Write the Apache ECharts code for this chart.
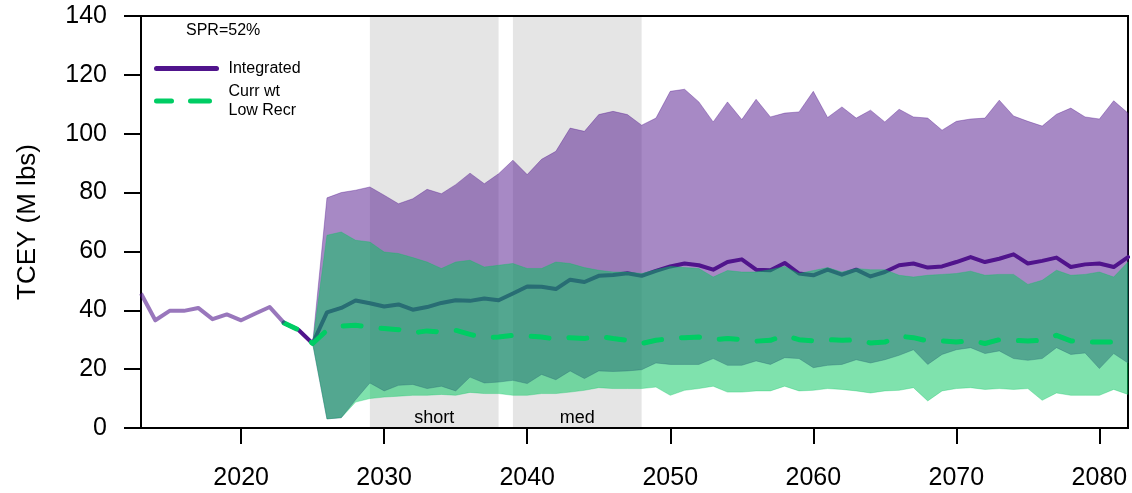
<!DOCTYPE html>
<html>
<head>
<meta charset="utf-8">
<script src="https://cdn.jsdelivr.net/npm/echarts@6/dist/echarts.min.js"></script>
<style>
  html, body { margin: 0; padding: 0; background: #fff; }
  #main { width: 1132px; height: 493px; }
</style>
</head>
<body>
<div id="main"></div>
<script>
// years on the x axis
var firstYear = 2013, lastYear = 2082;
var years = [];
for (var y = firstYear; y <= lastYear; y++) years.push(String(y));

// observed TCEY 2013-2023
var histStart = 2013;
var histCatch = [45.7, 36.6, 39.8, 39.8, 40.8, 37.0, 38.6, 36.6, 38.9, 41.1, 35.7];

// projected medians 2023-2082
var medStart = 2023;
var integratedMed = [35.7, 33.4, 28.7, 39.3, 40.8, 43.3, 42.4, 41.3, 42.0, 40.2,
  41.1, 42.5, 43.4, 43.2, 44.0, 43.4, 45.7, 48.1, 48.0, 47.2,
  50.4, 49.6, 51.7, 52.0, 52.6, 51.7, 53.4, 54.9, 55.9, 55.3,
  53.8, 56.4, 57.3, 53.8, 53.6, 56.1, 52.5, 51.9, 53.8, 52.1,
  53.8, 51.5, 53.0, 55.3, 55.9, 54.5, 54.9, 56.4, 58.1, 56.4,
  57.5, 59.0, 55.9, 56.8, 57.9, 54.7, 55.6, 55.9, 54.7, 58.1];
var currWtMed = [35.7, 33.4, 28.7, 33.2, 34.6, 34.9, 34.3, 33.8, 33.4, 32.3,
  33.0, 32.6, 33.2, 31.8, 30.7, 30.9, 31.5, 31.3, 30.9, 30.2,
  30.7, 30.4, 31.2, 30.4, 29.8, 28.7, 29.8, 30.4, 30.7, 30.9,
  30.0, 30.4, 30.0, 29.5, 29.8, 31.5, 30.0, 29.6, 30.0, 29.8,
  30.0, 28.9, 29.2, 31.2, 30.7, 29.6, 29.6, 29.2, 29.8, 28.7,
  30.0, 29.8, 29.6, 29.8, 31.5, 29.6, 29.2, 29.2, 29.2, 30.7];

// projection intervals 2025-2082
var bandStart = 2025;
var integratedHi = [28.7, 78.2, 80.0, 80.8, 81.9, 79.1, 76.2, 77.9,
  81.1, 79.6, 82.7, 86.6, 83.0, 86.4, 91.0, 86.1, 91.3, 94.0,
  101.9, 100.8, 106.5, 107.6, 106.5, 102.9, 105.3, 114.4, 115.1, 110.8,
  104.0, 110.8, 104.8, 111.7, 105.7, 107.0, 107.4, 114.4, 105.5, 109.1,
  105.3, 108.0, 104.0, 108.3, 105.7, 105.3, 101.2, 104.2, 105.0, 105.3,
  111.4, 106.0, 104.2, 102.6, 106.6, 108.7, 105.7, 105.0, 111.2, 107.0];
var integratedLo = [28.7, 3.1, 3.5, 9.6, 15.3, 12.6, 14.5, 14.8,
  13.4, 14.2, 12.6, 17.3, 15.3, 15.6, 16.2, 15.1, 18.2, 16.4,
  19.4, 16.8, 19.4, 19.2, 19.4, 19.8, 22.1, 21.6, 21.6, 21.6,
  23.6, 21.3, 21.3, 22.8, 21.6, 23.9, 23.6, 20.5, 21.3, 21.6,
  23.2, 22.1, 23.2, 24.7, 26.6, 21.6, 25.0, 26.6, 27.3, 25.3,
  26.2, 23.6, 23.0, 23.6, 27.3, 25.0, 25.5, 20.2, 25.3, 22.1];
var currWtHi = [28.7, 65.5, 66.6, 63.8, 63.2, 59.8, 59.3, 57.9,
  56.4, 54.2, 56.4, 57.0, 54.7, 55.3, 55.9, 54.2, 54.2, 56.4,
  55.9, 54.5, 53.6, 53.0, 53.0, 52.5, 53.8, 54.9, 54.5, 54.2,
  51.3, 53.5, 53.0, 53.0, 53.8, 54.9, 52.5, 53.5, 54.5, 53.0,
  54.2, 53.8, 53.8, 51.9, 51.3, 51.9, 52.2, 52.5, 53.3, 51.9,
  52.2, 52.2, 48.8, 50.2, 53.6, 51.9, 52.2, 53.0, 51.3, 56.4];
var currWtLo = [28.7, 3.1, 3.5, 8.8, 10.0, 10.5, 10.8, 11.1,
  11.1, 11.4, 11.1, 12.1, 11.7, 11.7, 11.1, 11.1, 11.7, 11.7,
  12.2, 12.8, 13.7, 13.4, 13.4, 13.4, 13.9, 11.1, 12.8, 13.4,
  14.2, 12.2, 12.2, 12.6, 12.6, 14.2, 12.6, 12.8, 13.4, 13.1,
  12.6, 11.9, 12.6, 12.8, 13.7, 9.2, 12.6, 13.4, 13.7, 13.1,
  13.4, 13.1, 13.4, 9.4, 11.9, 11.1, 11.1, 11.1, 13.1, 11.4];

// shaded evaluation periods
var periods = [['short', 2029, 2038], ['med', 2039, 2048]];

var font = 'Liberation Sans, Arial, sans-serif';
var purple = 'rgb(80,20,140)';
var green = 'rgb(0,205,100)';

// put a partial series on the full year axis
function pad(start, vals) {
  var out = years.map(function () { return null; });
  vals.forEach(function (v, i) { out[start - firstYear + i] = v; });
  return out;
}

// filled polygon between two curves
function band(hi, lo, fill, stroke, z) {
  return {
    type: 'custom', z: z, silent: true,
    data: [[0, 0]],
    renderItem: function (params, api) {
      var pts = [];
      hi.forEach(function (v, i) { if (v != null) pts.push(api.coord([i, v])); });
      for (var i = lo.length - 1; i >= 0; i--) {
        if (lo[i] != null) pts.push(api.coord([i, lo[i]]));
      }
      return {
        type: 'polygon', shape: { points: pts },
        style: { fill: fill, stroke: stroke, lineWidth: 1 }
      };
    }
  };
}

var chart = echarts.init(document.getElementById('main'));

var option = {
  animation: false,
  title: {
    text: 'SPR=52%', left: 186, top: 23, padding: 0,
    textStyle: { fontSize: 16, fontWeight: 'normal', color: '#000', fontFamily: font }
  },
  legend: {
    orient: 'vertical', left: 154, top: 59, padding: 0,
    itemWidth: 60, itemHeight: 14, itemGap: 4,
    selectedMode: false,
    textStyle: { fontSize: 16, lineHeight: 19, color: '#000', fontFamily: font, padding: [0, 0, 0, 7] },
    data: [
      {
        name: 'Integrated', itemStyle: { opacity: 0 },
        lineStyle: { color: purple, width: 5, cap: 'round' }
      },
      {
        name: 'Curr wt\nLow Recr', itemStyle: { opacity: 0 },
        lineStyle: { color: green, width: 5, type: [19, 19], cap: 'round' }
      }
    ]
  },
  grid: {
    left: 141, right: 4, top: 16, bottom: 65,
    show: true, borderColor: '#000', borderWidth: 2
  },
  xAxis: {
    type: 'category', data: years, boundaryGap: false,
    axisLine: { lineStyle: { color: '#000', width: 2 } },
    axisTick: {
      length: 16, lineStyle: { color: '#000', width: 2 },
      interval: function (i, v) { return +v % 10 === 0; }
    },
    axisLabel: {
      fontSize: 25, color: '#000', fontFamily: font, margin: 38,
      interval: function (i, v) { return +v % 10 === 0; }
    },
    splitLine: { show: false }
  },
  yAxis: {
    type: 'value', min: 0, max: 140, interval: 20,
    name: 'TCEY (M lbs)', nameLocation: 'middle', nameGap: 100,
    nameTextStyle: { fontSize: 26, color: '#000', fontFamily: font },
    axisLine: { show: true, lineStyle: { color: '#000', width: 2 } },
    axisTick: { show: true, length: 17, lineStyle: { color: '#000', width: 2 } },
    axisLabel: { fontSize: 25, color: '#000', fontFamily: font, margin: 34 },
    splitLine: { show: false }
  },
  series: [
    band(pad(bandStart, integratedHi), pad(bandStart, integratedLo),
      'rgba(80,20,140,0.5)', 'rgba(80,20,140,0.35)', 2),
    {
      name: 'Integrated', type: 'line', z: 3, symbol: 'none',
      data: pad(medStart, integratedMed),
      lineStyle: { color: purple, width: 4, cap: 'round', join: 'round' },
      itemStyle: { color: purple }
    },
    band(pad(bandStart, currWtHi), pad(bandStart, currWtLo),
      'rgba(0,197,92,0.5)', 'rgba(0,197,92,0.3)', 4),
    {
      name: 'Curr wt\nLow Recr', type: 'line', z: 5, symbol: 'none',
      data: pad(medStart, currWtMed),
      lineStyle: { color: green, width: 5, type: [18, 20], dashOffset: 4, cap: 'round', join: 'round' },
      itemStyle: { color: green }
    },
    {
      name: 'history', type: 'line', z: 5, symbol: 'none',
      data: pad(histStart, histCatch),
      lineStyle: { color: 'rgba(80,20,140,0.58)', width: 4, join: 'round' }
    },
    {
      name: 'periods', type: 'line', z: 6, data: [], symbol: 'none',
      markArea: {
        silent: true,
        itemStyle: { color: 'rgba(0,0,0,0.1)' },
        label: {
          show: true, position: 'insideBottom', distance: 1,
          color: '#000', fontSize: 18, fontFamily: font
        },
        data: periods.map(function (p) {
          return [{ name: p[0], xAxis: String(p[1]) }, { xAxis: String(p[2]) }];
        })
      }
    }
  ]
};

chart.setOption(option);
</script>
</body>
</html>
